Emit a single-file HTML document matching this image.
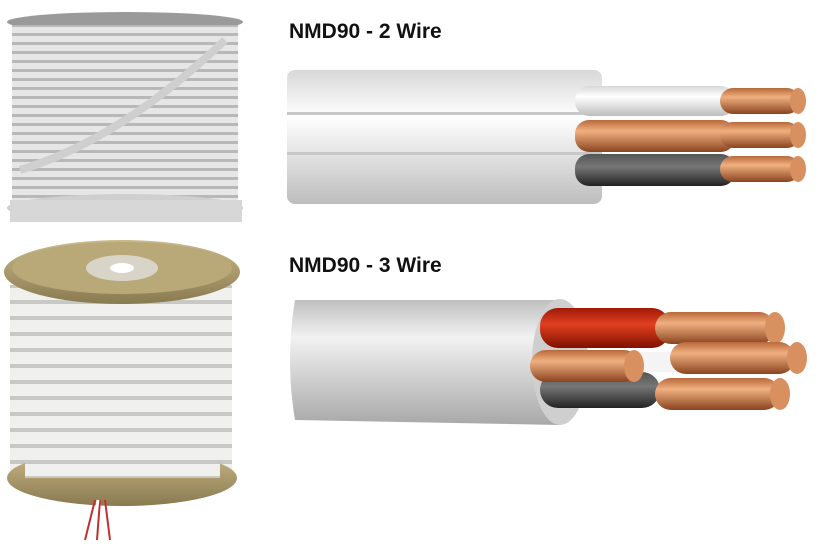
<!DOCTYPE html>
<html><head><style>
html,body{margin:0;padding:0;background:#fff;}
svg{display:block;}
text{font-family:"Liberation Sans",Arial,sans-serif;font-weight:bold;}
</style></head><body>
<svg width="822" height="554" viewBox="0 0 822 554" xmlns="http://www.w3.org/2000/svg">
<defs>
<linearGradient id="wh" x1="0" y1="0" x2="0" y2="1">
<stop offset="0" stop-color="#d8d8d8"/><stop offset="0.35" stop-color="#ffffff"/><stop offset="1" stop-color="#bdbdbd"/></linearGradient>
<linearGradient id="cu" x1="0" y1="0" x2="0" y2="1">
<stop offset="0" stop-color="#b8683a"/><stop offset="0.35" stop-color="#f0b080"/><stop offset="1" stop-color="#8a4420"/></linearGradient>
<linearGradient id="bk" x1="0" y1="0" x2="0" y2="1">
<stop offset="0" stop-color="#555"/><stop offset="0.4" stop-color="#777"/><stop offset="1" stop-color="#222"/></linearGradient>
<linearGradient id="rd" x1="0" y1="0" x2="0" y2="1">
<stop offset="0" stop-color="#a01808"/><stop offset="0.4" stop-color="#e04020"/><stop offset="1" stop-color="#801000"/></linearGradient>
<linearGradient id="gr" x1="0" y1="0" x2="0" y2="1">
<stop offset="0" stop-color="#bfbfbf"/><stop offset="0.3" stop-color="#f2f2f2"/><stop offset="1" stop-color="#a8a8a8"/></linearGradient>
<linearGradient id="gold" x1="0" y1="0" x2="0" y2="1">
<stop offset="0" stop-color="#c9b98a"/><stop offset="1" stop-color="#8a7a50"/></linearGradient>
<pattern id="coil" width="10" height="9" patternUnits="userSpaceOnUse">
<rect width="10" height="9" fill="#e6e6e6"/><rect y="6" width="10" height="3" fill="#b8b8b8"/></pattern>
<pattern id="coil2" width="10" height="16" patternUnits="userSpaceOnUse">
<rect width="10" height="16" fill="#f0f0ee"/><rect y="12" width="10" height="4" fill="#c8c8c4"/></pattern>
</defs>

<!-- top spool -->
<ellipse cx="125" cy="22" rx="118" ry="10" fill="#9a9a9a"/>
<rect x="12" y="25" width="226" height="180" fill="url(#coil)"/>
<path d="M20 170 Q120 140 225 40" stroke="#cfcfcf" stroke-width="8" fill="none"/>
<ellipse cx="125" cy="208" rx="118" ry="14" fill="#cfcfcf"/>
<rect x="10" y="200" width="232" height="22" fill="#d7d7d7"/>

<!-- bottom spool -->
<rect x="10" y="285" width="222" height="185" fill="url(#coil2)"/>
<ellipse cx="122" cy="272" rx="118" ry="32" fill="url(#gold)"/>
<ellipse cx="122" cy="268" rx="110" ry="26" fill="#b9a878"/>
<ellipse cx="122" cy="268" rx="36" ry="13" fill="#d9d4c8"/>
<ellipse cx="122" cy="268" rx="12" ry="5" fill="#fff"/>
<ellipse cx="122" cy="478" rx="115" ry="28" fill="url(#gold)"/>
<rect x="25" y="440" width="195" height="38" fill="url(#coil2)"/>
<path d="M95 500 L85 540 M100 500 L97 540 M105 500 L110 540" stroke="#c03030" stroke-width="2"/>
<path d="M98 500 L92 540" stroke="#fff" stroke-width="3"/>

<text x="289" y="38" font-size="21" fill="#111">NMD90 - 2 Wire</text>
<text x="289" y="272" font-size="21" fill="#111">NMD90 - 3 Wire</text>

<!-- 2 wire cable -->
<rect x="287" y="70" width="315" height="134" rx="8" fill="url(#wh)"/>
<rect x="287" y="112" width="315" height="3" fill="#c8c8c8"/>
<rect x="287" y="152" width="315" height="3" fill="#c8c8c8"/>
<rect x="575" y="86" width="160" height="30" rx="14" fill="url(#wh)"/>
<rect x="720" y="88" width="80" height="26" rx="13" fill="url(#cu)"/>
<ellipse cx="798" cy="101" rx="8" ry="13" fill="#d89060"/>
<rect x="575" y="120" width="160" height="32" rx="14" fill="url(#cu)"/>
<rect x="720" y="122" width="80" height="26" rx="13" fill="url(#cu)"/>
<ellipse cx="798" cy="135" rx="8" ry="13" fill="#d89060"/>
<rect x="575" y="154" width="160" height="32" rx="14" fill="url(#bk)"/>
<rect x="720" y="156" width="80" height="26" rx="13" fill="url(#cu)"/>
<ellipse cx="798" cy="169" rx="8" ry="13" fill="#d89060"/>

<!-- 3 wire cable -->
<path d="M295 300 L560 300 L560 425 L295 420 Q285 360 295 300Z" fill="url(#gr)"/>
<ellipse cx="560" cy="362" rx="28" ry="63" fill="#cfcfcf"/>
<rect x="540" y="308" width="130" height="40" rx="18" fill="url(#rd)"/>
<rect x="540" y="372" width="120" height="36" rx="18" fill="url(#bk)"/>
<rect x="620" y="352" width="60" height="20" fill="#f4f4f4"/>
<rect x="655" y="312" width="120" height="32" rx="16" fill="url(#cu)"/>
<ellipse cx="775" cy="328" rx="10" ry="16" fill="#d89060"/>
<rect x="670" y="342" width="125" height="32" rx="16" fill="url(#cu)"/>
<ellipse cx="797" cy="358" rx="10" ry="16" fill="#d89060"/>
<rect x="655" y="378" width="125" height="32" rx="16" fill="url(#cu)"/>
<ellipse cx="780" cy="394" rx="10" ry="16" fill="#d89060"/>
<rect x="530" y="350" width="110" height="32" rx="16" fill="url(#cu)"/>
<ellipse cx="634" cy="366" rx="10" ry="16" fill="#d89060"/>
</svg>
</body></html>
